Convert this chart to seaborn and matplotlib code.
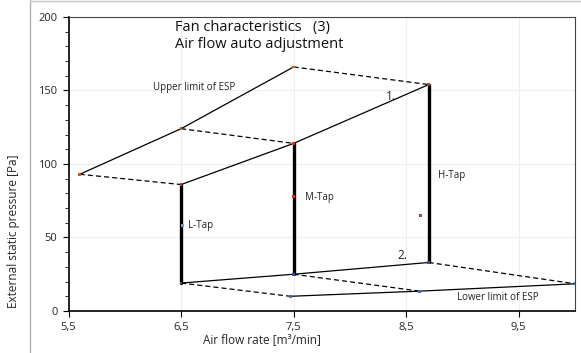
import matplotlib
matplotlib.use("Agg")
import matplotlib.pyplot as plt
from matplotlib.lines import Line2D
from matplotlib.ticker import FuncFormatter, MultipleLocator
import seaborn as sns
import pandas as pd

# Fan curves: airflow [m3/min] and external static pressure [Pa]
tap_flow = [6.5, 7.5, 8.7]
upper_flow = [5.6, 6.5, 7.5]
upper_esp = [93, 124, 166]
curve1_esp = [86, 114, 154]
curve2_esp = [19, 25, 33]
lower_flow = [7.47, 8.62, 10.0]
lower_esp = [10, 13.5, 18.5]
tap_names = ["L-Tap", "M-Tap", "H-Tap"]
tap_label_pos = [(6.56, 58), (7.6, 77), (8.78, 92)]

sns.set_theme(style="white")
plt.rcParams["font.family"] = ["Open Sans", "DejaVu Sans"]

fig = plt.figure(figsize=(5.81, 3.53), dpi=100)
ax = fig.add_axes([0.118, 0.119, 0.8717, 0.833])

def solid(x, y, lw=0.9, color="black", ls="-"):
    df = pd.DataFrame({"flow": x, "esp": y})
    sns.lineplot(data=df, x="flow", y="esp", ax=ax, sort=False, estimator=None,
                 color=color, lw=lw, ls=ls)

# Limit and tap curves
solid(upper_flow, upper_esp)
solid(tap_flow, curve1_esp)
solid(tap_flow, curve2_esp)
solid(lower_flow, lower_esp)

# Dashed links between curves
for i in range(3):
    solid([upper_flow[i], tap_flow[i]], [upper_esp[i], curve1_esp[i]], lw=0.9, ls=(0, (4, 2.5)))
    solid([tap_flow[i], lower_flow[i]], [curve2_esp[i], lower_esp[i]], lw=0.9, ls=(0, (4, 2.5)))

# Tap ranges
for i in range(3):
    solid([tap_flow[i], tap_flow[i]], [curve1_esp[i], curve2_esp[i]], lw=2.4)

# Point markers
pts = pd.DataFrame({
    "flow": upper_flow + tap_flow + tap_flow + lower_flow + [6.51, 7.5, 8.63],
    "esp": upper_esp + curve1_esp + curve2_esp + lower_esp + [58, 78, 65],
    "kind": ["u"] * 3 + ["c1"] * 3 + ["c2"] * 3 + ["lo"] * 3 + ["l", "m", "s"],
})
palette = {"u": "#b5651d", "c1": "#c0392b", "c2": "#3b4a9a", "lo": "#4a6fb5",
           "l": "#4fb3d9", "m": "#c0392b", "s": "#b04040"}
sns.scatterplot(data=pts, x="flow", y="esp", hue="kind", palette=palette, marker="s",
                s=4, linewidth=0, ax=ax, legend=False, zorder=5)

# Annotations
ax.text(6.25, 152, "Upper limit of ESP", fontsize=7, va="center", color="#222222")
ax.text(8.95, 9.5, "Lower limit of ESP", fontsize=7, va="center", color="#222222")
for name, (x, y) in zip(tap_names, tap_label_pos):
    ax.text(x, y, name, fontsize=7, va="center", color="#222222")
ax.text(8.32, 146, "1.", fontsize=8.5, va="center", color="#222222")
ax.text(8.42, 38, "2.", fontsize=8.5, va="center", color="#222222")
ax.text(6.45, 187, "Fan characteristics   (3)\nAir flow auto adjustment", fontsize=10.5,
        va="center", ha="left", linespacing=1.2, color="#111111")

ax.set_xlim(5.5, 10.0)
ax.set_ylim(0, 200)
ax.set_xticks([5.5, 6.5, 7.5, 8.5, 9.5])
ax.set_yticks([0, 50, 100, 150, 200])
ax.yaxis.set_minor_locator(MultipleLocator(10))
ax.xaxis.set_major_formatter(FuncFormatter(lambda v, p: f"{v:.1f}".replace(".", ",")))
ax.grid(True, which="major", color="#eeeeee", lw=0.8)
ax.tick_params(axis="both", which="major", labelsize=8, direction="out", length=4,
               width=0.8, color="black", pad=4, bottom=True, left=True)
ax.tick_params(axis="y", which="minor", direction="out", length=3, width=0.6,
               color="black", left=True)
ax.set_xlabel("Air flow rate [m³/min]", fontsize=8.5, labelpad=2)
ax.xaxis.set_label_coords(0.382, -0.075)
ax.set_ylabel("External static pressure [Pa]", fontsize=8.5, labelpad=14)
ax.yaxis.set_label_coords(-0.096, 0.27)
for side in ["left", "bottom"]:
    ax.spines[side].set_color("black")
    ax.spines[side].set_linewidth(1.2)
for side in ["top", "right"]:
    ax.spines[side].set_color("#444444")
    ax.spines[side].set_linewidth(0.8)

# Outer frame lines
fig.add_artist(Line2D([30 / 581, 30 / 581], [0, 1], color="#b0b0b0", lw=1.0))
fig.add_artist(Line2D([30 / 581, 1], [0.998, 0.998], color="#c8c8c8", lw=1.0))

fig.savefig("out.png", dpi=100)
